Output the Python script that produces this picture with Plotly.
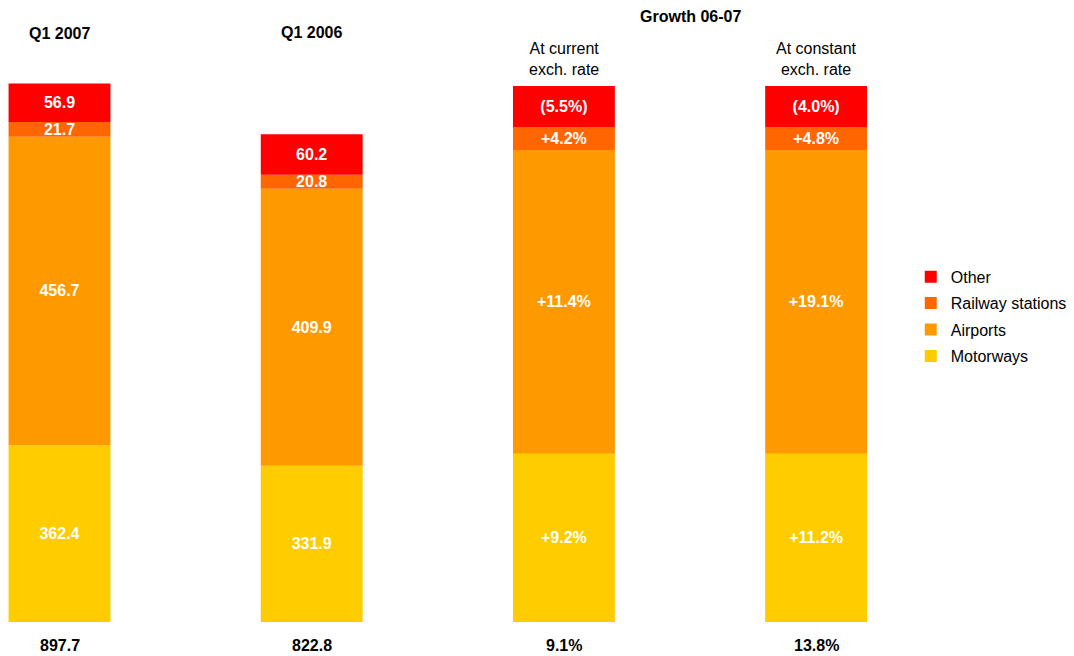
import plotly.graph_objects as go

# ---- data ----
bars = ["Q1 2007", "Q1 2006", "At current<br>exch. rate", "At constant<br>exch. rate"]
segments = ["Motorways", "Airports", "Railway stations", "Other"]

q1_2007 = [362.4, 456.7, 21.7, 56.9]
q1_2006 = [331.9, 409.9, 20.8, 60.2]

growth_current = ["+9.2%", "+11.4%", "+4.2%", "(5.5%)"]
growth_constant = ["+11.2%", "+19.1%", "+4.8%", "(4.0%)"]
# display heights of the growth bars
growth_bar_heights = [349.7, 449.6, 34.0, 60.7]

total_growth = ["9.1%", "13.8%"]

colors = ["#FFCC00", "#FF9900", "#FF6600", "#FF0000"]

# the value axis is cut at its bottom (bars start below the visible area)
axis_min = 100.6
axis_max = 900

# ---- figure ----
fig = go.Figure()
cum = [0.0, 0.0, 0.0, 0.0]
for i, seg in enumerate(segments):
    vals = [q1_2007[i], q1_2006[i], growth_bar_heights[i], growth_bar_heights[i]]
    texts = [f"{q1_2007[i]:.1f}", f"{q1_2006[i]:.1f}", growth_current[i], growth_constant[i]]
    # visible base/height of each segment (clipped at the axis minimum)
    base = [max(c, axis_min) for c in cum]
    height = [c + v - b for c, v, b in zip(cum, vals, base)]
    fig.add_trace(go.Bar(
        x=bars, y=height, base=base, name=seg, text=texts,
        textposition="inside", insidetextanchor="middle", textangle=0,
        constraintext="none",
        textfont=dict(family="Liberation Sans, Arial", size=16, color="white", weight="bold"),
        marker=dict(color=colors[i], line=dict(width=0)),
        legendgroup=seg, legendrank=len(segments) - i, hoverinfo="skip",
    ))
    cum = [c + v for c, v in zip(cum, vals)]

fig.update_layout(
    barmode="overlay", bargap=0.596,
    width=1074, height=656,
    margin=dict(l=0, r=157, t=82, b=34, autoexpand=False),
    paper_bgcolor="white", plot_bgcolor="white",
    font=dict(family="Liberation Sans, Arial", size=16, color="black"),
    uniformtext=dict(minsize=16, mode="show"),
    xaxis=dict(range=[-0.236, 3.4], showticklabels=False, showgrid=False,
               zeroline=False, showline=False, fixedrange=True),
    yaxis=dict(range=[axis_min, axis_max], visible=False, fixedrange=True),
    legend=dict(traceorder="grouped", tracegroupgap=2.6,
                xref="container", x=0.848, xanchor="left",
                yref="container", y=0.604, yanchor="top",
                font=dict(size=16, color="black"), bgcolor="rgba(0,0,0,0)"),
    showlegend=True,
)

# header labels
fig.add_annotation(x=bars[0], xref="x", yref="paper", y=1, yanchor="bottom",
                   text=f"<b>{bars[0]}</b>", showarrow=False, font=dict(size=16), yshift=38)
fig.add_annotation(x=bars[1], xref="x", yref="paper", y=1, yanchor="bottom",
                   text=f"<b>{bars[1]}</b>", showarrow=False, font=dict(size=16), yshift=39)
for j in range(2, 4):
    fig.add_annotation(x=bars[j], xref="x", yref="paper", y=1, yanchor="bottom",
                       text=bars[j], showarrow=False, font=dict(size=16), yshift=2)
fig.add_annotation(x=2.5, xref="x", yref="paper", y=1, yanchor="bottom",
                   text="<b>Growth 06-07</b>", showarrow=False, font=dict(size=16), yshift=55)

# bottom totals
totals = [f"{sum(q1_2007):.1f}", f"{sum(q1_2006):.1f}"] + total_growth
for j, t in enumerate(totals):
    fig.add_annotation(x=bars[j], xref="x", yref="paper", y=0, yanchor="top",
                       text=f"<b>{t}</b>", showarrow=False, font=dict(size=16), yshift=-13)

fig.write_html("out.html", config={"displayModeBar": False},
               post_script="document.body.style.margin='0';")
